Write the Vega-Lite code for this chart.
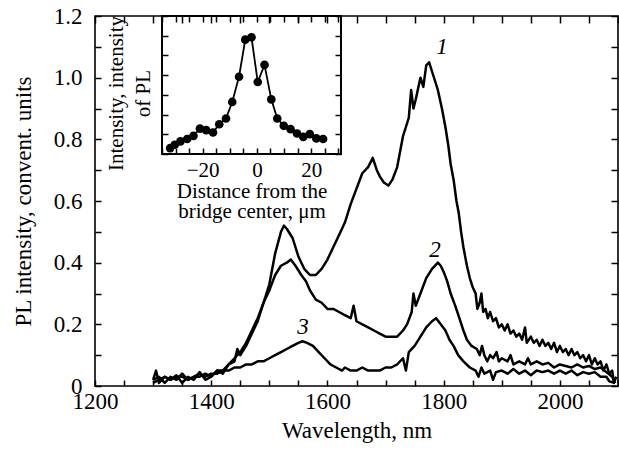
{
  "$schema": "https://vega.github.io/schema/vega-lite/v6.json",
  "width": 523,
  "height": 370,
  "autosize": {"type": "none"},
  "padding": {"left": 95, "top": 16, "right": 1, "bottom": 66},
  "background": "white",
  "config": {
    "view": {"stroke": "black", "strokeWidth": 1.6},
    "font": "Liberation Serif",
    "axis": {
      "grid": false,
      "domain": false,
      "ticks": true,
      "tickColor": "black",
      "tickWidth": 1.5,
      "tickOpacity": 1,
      "labelColor": "black",
      "titleColor": "black",
      "labelFont": "Liberation Serif",
      "titleFont": "Liberation Serif",
      "titleFontWeight": "normal",
      "labelOverlap": false,
      "labelFlush": false
    }
  },
  "datasets": {
    "spectra": [
      {"curve": "1", "wl": 1300, "val": 0.02}, {"curve": "1", "wl": 1305, "val": 0.05}, {"curve": "1", "wl": 1310, "val": 0.01}, {"curve": "1", "wl": 1320, "val": 0.03},
      {"curve": "1", "wl": 1330, "val": 0.02}, {"curve": "1", "wl": 1340, "val": 0.035}, {"curve": "1", "wl": 1350, "val": 0.01}, {"curve": "1", "wl": 1360, "val": 0.03},
      {"curve": "1", "wl": 1370, "val": 0.02}, {"curve": "1", "wl": 1380, "val": 0.045}, {"curve": "1", "wl": 1390, "val": 0.02}, {"curve": "1", "wl": 1400, "val": 0.03},
      {"curve": "1", "wl": 1410, "val": 0.05}, {"curve": "1", "wl": 1420, "val": 0.04}, {"curve": "1", "wl": 1430, "val": 0.07}, {"curve": "1", "wl": 1440, "val": 0.08},
      {"curve": "1", "wl": 1445, "val": 0.12}, {"curve": "1", "wl": 1450, "val": 0.1}, {"curve": "1", "wl": 1460, "val": 0.13}, {"curve": "1", "wl": 1470, "val": 0.17}, {"curve": "1", "wl": 1480, "val": 0.21},
      {"curve": "1", "wl": 1490, "val": 0.27}, {"curve": "1", "wl": 1500, "val": 0.33}, {"curve": "1", "wl": 1510, "val": 0.43}, {"curve": "1", "wl": 1520, "val": 0.5},
      {"curve": "1", "wl": 1525, "val": 0.52}, {"curve": "1", "wl": 1530, "val": 0.51}, {"curve": "1", "wl": 1540, "val": 0.48}, {"curve": "1", "wl": 1550, "val": 0.42},
      {"curve": "1", "wl": 1560, "val": 0.38}, {"curve": "1", "wl": 1570, "val": 0.36}, {"curve": "1", "wl": 1580, "val": 0.36}, {"curve": "1", "wl": 1590, "val": 0.38},
      {"curve": "1", "wl": 1600, "val": 0.41}, {"curve": "1", "wl": 1610, "val": 0.45}, {"curve": "1", "wl": 1620, "val": 0.49}, {"curve": "1", "wl": 1630, "val": 0.53},
      {"curve": "1", "wl": 1640, "val": 0.59}, {"curve": "1", "wl": 1650, "val": 0.64}, {"curve": "1", "wl": 1660, "val": 0.69}, {"curve": "1", "wl": 1670, "val": 0.71},
      {"curve": "1", "wl": 1678, "val": 0.74}, {"curve": "1", "wl": 1685, "val": 0.7}, {"curve": "1", "wl": 1690, "val": 0.68}, {"curve": "1", "wl": 1697, "val": 0.66},
      {"curve": "1", "wl": 1705, "val": 0.65}, {"curve": "1", "wl": 1712, "val": 0.67}, {"curve": "1", "wl": 1720, "val": 0.71}, {"curve": "1", "wl": 1730, "val": 0.81},
      {"curve": "1", "wl": 1740, "val": 0.87}, {"curve": "1", "wl": 1744, "val": 0.96}, {"curve": "1", "wl": 1748, "val": 0.9}, {"curve": "1", "wl": 1752, "val": 0.93}, {"curve": "1", "wl": 1760, "val": 1.0},
      {"curve": "1", "wl": 1765, "val": 0.97}, {"curve": "1", "wl": 1770, "val": 1.04}, {"curve": "1", "wl": 1775, "val": 1.05}, {"curve": "1", "wl": 1780, "val": 1.02},
      {"curve": "1", "wl": 1785, "val": 0.99}, {"curve": "1", "wl": 1790, "val": 0.96}, {"curve": "1", "wl": 1797, "val": 0.9}, {"curve": "1", "wl": 1803, "val": 0.84},
      {"curve": "1", "wl": 1808, "val": 0.78}, {"curve": "1", "wl": 1812, "val": 0.72}, {"curve": "1", "wl": 1817, "val": 0.67}, {"curve": "1", "wl": 1822, "val": 0.6},
      {"curve": "1", "wl": 1826, "val": 0.56}, {"curve": "1", "wl": 1830, "val": 0.5}, {"curve": "1", "wl": 1834, "val": 0.45}, {"curve": "1", "wl": 1840, "val": 0.39},
      {"curve": "1", "wl": 1845, "val": 0.35}, {"curve": "1", "wl": 1850, "val": 0.32}, {"curve": "1", "wl": 1855, "val": 0.3}, {"curve": "1", "wl": 1858, "val": 0.25}, {"curve": "1", "wl": 1862, "val": 0.27},
      {"curve": "1", "wl": 1865, "val": 0.3}, {"curve": "1", "wl": 1868, "val": 0.24}, {"curve": "1", "wl": 1872, "val": 0.25}, {"curve": "1", "wl": 1876, "val": 0.22},
      {"curve": "1", "wl": 1880, "val": 0.24}, {"curve": "1", "wl": 1885, "val": 0.21}, {"curve": "1", "wl": 1890, "val": 0.22}, {"curve": "1", "wl": 1895, "val": 0.19},
      {"curve": "1", "wl": 1900, "val": 0.2}, {"curve": "1", "wl": 1905, "val": 0.18}, {"curve": "1", "wl": 1910, "val": 0.2}, {"curve": "1", "wl": 1915, "val": 0.17},
      {"curve": "1", "wl": 1920, "val": 0.18}, {"curve": "1", "wl": 1925, "val": 0.16}, {"curve": "1", "wl": 1930, "val": 0.17}, {"curve": "1", "wl": 1935, "val": 0.15},
      {"curve": "1", "wl": 1940, "val": 0.19}, {"curve": "1", "wl": 1943, "val": 0.14}, {"curve": "1", "wl": 1950, "val": 0.16}, {"curve": "1", "wl": 1955, "val": 0.14},
      {"curve": "1", "wl": 1960, "val": 0.15}, {"curve": "1", "wl": 1965, "val": 0.13}, {"curve": "1", "wl": 1970, "val": 0.15}, {"curve": "1", "wl": 1975, "val": 0.13},
      {"curve": "1", "wl": 1980, "val": 0.14}, {"curve": "1", "wl": 1985, "val": 0.12}, {"curve": "1", "wl": 1990, "val": 0.14}, {"curve": "1", "wl": 1995, "val": 0.11},
      {"curve": "1", "wl": 2000, "val": 0.13}, {"curve": "1", "wl": 2005, "val": 0.11}, {"curve": "1", "wl": 2010, "val": 0.12}, {"curve": "1", "wl": 2015, "val": 0.1},
      {"curve": "1", "wl": 2020, "val": 0.12}, {"curve": "1", "wl": 2025, "val": 0.1}, {"curve": "1", "wl": 2030, "val": 0.11}, {"curve": "1", "wl": 2035, "val": 0.09},
      {"curve": "1", "wl": 2040, "val": 0.1}, {"curve": "1", "wl": 2045, "val": 0.08}, {"curve": "1", "wl": 2050, "val": 0.1}, {"curve": "1", "wl": 2055, "val": 0.07},
      {"curve": "1", "wl": 2060, "val": 0.09}, {"curve": "1", "wl": 2065, "val": 0.07}, {"curve": "1", "wl": 2070, "val": 0.08}, {"curve": "1", "wl": 2075, "val": 0.05},
      {"curve": "1", "wl": 2080, "val": 0.07}, {"curve": "1", "wl": 2085, "val": 0.04}, {"curve": "1", "wl": 2090, "val": 0.05}, {"curve": "1", "wl": 2093, "val": 0.01},
      {"curve": "1", "wl": 2097, "val": 0.03},

      {"curve": "2", "wl": 1300, "val": 0.02}, {"curve": "2", "wl": 1310, "val": 0.03}, {"curve": "2", "wl": 1320, "val": 0.01}, {"curve": "2", "wl": 1330, "val": 0.03},
      {"curve": "2", "wl": 1340, "val": 0.02}, {"curve": "2", "wl": 1350, "val": 0.04}, {"curve": "2", "wl": 1360, "val": 0.02}, {"curve": "2", "wl": 1370, "val": 0.03},
      {"curve": "2", "wl": 1380, "val": 0.03}, {"curve": "2", "wl": 1390, "val": 0.04}, {"curve": "2", "wl": 1400, "val": 0.03}, {"curve": "2", "wl": 1410, "val": 0.05},
      {"curve": "2", "wl": 1420, "val": 0.05}, {"curve": "2", "wl": 1430, "val": 0.07}, {"curve": "2", "wl": 1440, "val": 0.09}, {"curve": "2", "wl": 1450, "val": 0.11},
      {"curve": "2", "wl": 1460, "val": 0.14}, {"curve": "2", "wl": 1470, "val": 0.18}, {"curve": "2", "wl": 1480, "val": 0.22}, {"curve": "2", "wl": 1490, "val": 0.27},
      {"curve": "2", "wl": 1500, "val": 0.31}, {"curve": "2", "wl": 1510, "val": 0.36}, {"curve": "2", "wl": 1520, "val": 0.39}, {"curve": "2", "wl": 1530, "val": 0.4},
      {"curve": "2", "wl": 1537, "val": 0.41}, {"curve": "2", "wl": 1545, "val": 0.39}, {"curve": "2", "wl": 1555, "val": 0.36}, {"curve": "2", "wl": 1563, "val": 0.34},
      {"curve": "2", "wl": 1570, "val": 0.31}, {"curve": "2", "wl": 1580, "val": 0.28}, {"curve": "2", "wl": 1590, "val": 0.27}, {"curve": "2", "wl": 1600, "val": 0.25},
      {"curve": "2", "wl": 1610, "val": 0.25}, {"curve": "2", "wl": 1620, "val": 0.24}, {"curve": "2", "wl": 1630, "val": 0.23}, {"curve": "2", "wl": 1640, "val": 0.22},
      {"curve": "2", "wl": 1645, "val": 0.26}, {"curve": "2", "wl": 1650, "val": 0.21}, {"curve": "2", "wl": 1660, "val": 0.2}, {"curve": "2", "wl": 1670, "val": 0.19},
      {"curve": "2", "wl": 1680, "val": 0.18}, {"curve": "2", "wl": 1690, "val": 0.17}, {"curve": "2", "wl": 1700, "val": 0.16}, {"curve": "2", "wl": 1710, "val": 0.16},
      {"curve": "2", "wl": 1720, "val": 0.16}, {"curve": "2", "wl": 1730, "val": 0.18}, {"curve": "2", "wl": 1737, "val": 0.2}, {"curve": "2", "wl": 1745, "val": 0.24},
      {"curve": "2", "wl": 1748, "val": 0.3}, {"curve": "2", "wl": 1752, "val": 0.26}, {"curve": "2", "wl": 1760, "val": 0.3}, {"curve": "2", "wl": 1770, "val": 0.35}, {"curve": "2", "wl": 1780, "val": 0.38},
      {"curve": "2", "wl": 1790, "val": 0.4}, {"curve": "2", "wl": 1795, "val": 0.39}, {"curve": "2", "wl": 1800, "val": 0.37}, {"curve": "2", "wl": 1806, "val": 0.34},
      {"curve": "2", "wl": 1812, "val": 0.3}, {"curve": "2", "wl": 1820, "val": 0.26}, {"curve": "2", "wl": 1827, "val": 0.22}, {"curve": "2", "wl": 1834, "val": 0.18},
      {"curve": "2", "wl": 1840, "val": 0.15}, {"curve": "2", "wl": 1848, "val": 0.13}, {"curve": "2", "wl": 1857, "val": 0.12}, {"curve": "2", "wl": 1862, "val": 0.1},
      {"curve": "2", "wl": 1866, "val": 0.13}, {"curve": "2", "wl": 1870, "val": 0.1}, {"curve": "2", "wl": 1875, "val": 0.08}, {"curve": "2", "wl": 1880, "val": 0.1},
      {"curve": "2", "wl": 1885, "val": 0.09}, {"curve": "2", "wl": 1891, "val": 0.11}, {"curve": "2", "wl": 1895, "val": 0.08}, {"curve": "2", "wl": 1900, "val": 0.09},
      {"curve": "2", "wl": 1910, "val": 0.08}, {"curve": "2", "wl": 1915, "val": 0.1}, {"curve": "2", "wl": 1920, "val": 0.07}, {"curve": "2", "wl": 1930, "val": 0.08},
      {"curve": "2", "wl": 1940, "val": 0.07}, {"curve": "2", "wl": 1945, "val": 0.09}, {"curve": "2", "wl": 1950, "val": 0.07}, {"curve": "2", "wl": 1960, "val": 0.08},
      {"curve": "2", "wl": 1970, "val": 0.07}, {"curve": "2", "wl": 1980, "val": 0.075}, {"curve": "2", "wl": 1990, "val": 0.06}, {"curve": "2", "wl": 2000, "val": 0.07},
      {"curve": "2", "wl": 2010, "val": 0.065}, {"curve": "2", "wl": 2020, "val": 0.06}, {"curve": "2", "wl": 2030, "val": 0.07}, {"curve": "2", "wl": 2040, "val": 0.06},
      {"curve": "2", "wl": 2050, "val": 0.065}, {"curve": "2", "wl": 2060, "val": 0.055}, {"curve": "2", "wl": 2070, "val": 0.06}, {"curve": "2", "wl": 2080, "val": 0.045},
      {"curve": "2", "wl": 2090, "val": 0.03}, {"curve": "2", "wl": 2095, "val": 0.01},

      {"curve": "3", "wl": 1300, "val": 0.01}, {"curve": "3", "wl": 1310, "val": 0.02}, {"curve": "3", "wl": 1320, "val": 0.03}, {"curve": "3", "wl": 1330, "val": 0.02},
      {"curve": "3", "wl": 1340, "val": 0.03}, {"curve": "3", "wl": 1350, "val": 0.03}, {"curve": "3", "wl": 1360, "val": 0.02}, {"curve": "3", "wl": 1370, "val": 0.03},
      {"curve": "3", "wl": 1380, "val": 0.04}, {"curve": "3", "wl": 1390, "val": 0.03}, {"curve": "3", "wl": 1400, "val": 0.04}, {"curve": "3", "wl": 1410, "val": 0.04},
      {"curve": "3", "wl": 1420, "val": 0.05}, {"curve": "3", "wl": 1430, "val": 0.05}, {"curve": "3", "wl": 1440, "val": 0.06}, {"curve": "3", "wl": 1450, "val": 0.06},
      {"curve": "3", "wl": 1460, "val": 0.07}, {"curve": "3", "wl": 1470, "val": 0.07}, {"curve": "3", "wl": 1480, "val": 0.08}, {"curve": "3", "wl": 1490, "val": 0.08},
      {"curve": "3", "wl": 1500, "val": 0.09}, {"curve": "3", "wl": 1510, "val": 0.1}, {"curve": "3", "wl": 1520, "val": 0.11}, {"curve": "3", "wl": 1530, "val": 0.12},
      {"curve": "3", "wl": 1540, "val": 0.13}, {"curve": "3", "wl": 1550, "val": 0.14}, {"curve": "3", "wl": 1557, "val": 0.145}, {"curve": "3", "wl": 1565, "val": 0.14},
      {"curve": "3", "wl": 1575, "val": 0.13}, {"curve": "3", "wl": 1585, "val": 0.11}, {"curve": "3", "wl": 1595, "val": 0.09}, {"curve": "3", "wl": 1605, "val": 0.07},
      {"curve": "3", "wl": 1615, "val": 0.06}, {"curve": "3", "wl": 1625, "val": 0.05}, {"curve": "3", "wl": 1630, "val": 0.06}, {"curve": "3", "wl": 1640, "val": 0.05},
      {"curve": "3", "wl": 1650, "val": 0.05}, {"curve": "3", "wl": 1660, "val": 0.06}, {"curve": "3", "wl": 1670, "val": 0.05}, {"curve": "3", "wl": 1680, "val": 0.05},
      {"curve": "3", "wl": 1690, "val": 0.05}, {"curve": "3", "wl": 1700, "val": 0.06}, {"curve": "3", "wl": 1710, "val": 0.06}, {"curve": "3", "wl": 1720, "val": 0.07},
      {"curve": "3", "wl": 1730, "val": 0.09}, {"curve": "3", "wl": 1735, "val": 0.05}, {"curve": "3", "wl": 1740, "val": 0.11}, {"curve": "3", "wl": 1750, "val": 0.13}, {"curve": "3", "wl": 1760, "val": 0.16},
      {"curve": "3", "wl": 1770, "val": 0.19}, {"curve": "3", "wl": 1780, "val": 0.21}, {"curve": "3", "wl": 1787, "val": 0.22}, {"curve": "3", "wl": 1795, "val": 0.2},
      {"curve": "3", "wl": 1803, "val": 0.18}, {"curve": "3", "wl": 1810, "val": 0.15}, {"curve": "3", "wl": 1817, "val": 0.13}, {"curve": "3", "wl": 1825, "val": 0.1},
      {"curve": "3", "wl": 1834, "val": 0.08}, {"curve": "3", "wl": 1845, "val": 0.06}, {"curve": "3", "wl": 1855, "val": 0.05}, {"curve": "3", "wl": 1860, "val": 0.03},
      {"curve": "3", "wl": 1865, "val": 0.06}, {"curve": "3", "wl": 1870, "val": 0.04}, {"curve": "3", "wl": 1880, "val": 0.05}, {"curve": "3", "wl": 1885, "val": 0.02},
      {"curve": "3", "wl": 1890, "val": 0.045}, {"curve": "3", "wl": 1900, "val": 0.05}, {"curve": "3", "wl": 1910, "val": 0.04}, {"curve": "3", "wl": 1920, "val": 0.055},
      {"curve": "3", "wl": 1930, "val": 0.04}, {"curve": "3", "wl": 1940, "val": 0.05}, {"curve": "3", "wl": 1950, "val": 0.035}, {"curve": "3", "wl": 1960, "val": 0.05},
      {"curve": "3", "wl": 1970, "val": 0.045}, {"curve": "3", "wl": 1980, "val": 0.05}, {"curve": "3", "wl": 1990, "val": 0.04}, {"curve": "3", "wl": 2000, "val": 0.05},
      {"curve": "3", "wl": 2010, "val": 0.04}, {"curve": "3", "wl": 2020, "val": 0.05}, {"curve": "3", "wl": 2030, "val": 0.035}, {"curve": "3", "wl": 2040, "val": 0.045},
      {"curve": "3", "wl": 2050, "val": 0.04}, {"curve": "3", "wl": 2060, "val": 0.045}, {"curve": "3", "wl": 2070, "val": 0.03}, {"curve": "3", "wl": 2080, "val": 0.03},
      {"curve": "3", "wl": 2085, "val": 0.015}, {"curve": "3", "wl": 2095, "val": 0.01}
    ],
    "labels": [
      {"wl": 1797, "val": 1.1, "text": "1"},
      {"wl": 1785, "val": 0.44, "text": "2"},
      {"wl": 1558, "val": 0.19, "text": "3"}
    ],
    "profile": [
      {"d": -32.0, "i": 0.3}, {"d": -30.3, "i": 0.47}, {"d": -28.2, "i": 0.64}, {"d": -25.7, "i": 0.76},
      {"d": -23.4, "i": 0.92}, {"d": -21.0, "i": 1.29}, {"d": -18.7, "i": 1.21}, {"d": -16.2, "i": 1.09},
      {"d": -13.9, "i": 1.51}, {"d": -11.4, "i": 1.8}, {"d": -9.1, "i": 2.64}, {"d": -6.6, "i": 3.92},
      {"d": -4.3, "i": 5.8}, {"d": -2.0, "i": 5.92}, {"d": 0.3, "i": 3.65}, {"d": 2.8, "i": 4.52},
      {"d": 5.3, "i": 2.77}, {"d": 7.5, "i": 1.8}, {"d": 9.9, "i": 1.43}, {"d": 12.4, "i": 1.26},
      {"d": 14.8, "i": 1.04}, {"d": 17.1, "i": 0.87}, {"d": 19.5, "i": 1.01}, {"d": 21.9, "i": 0.79},
      {"d": 24.4, "i": 0.76}
    ]
  },
  "layer": [
    {
      "layer": [
        {
          "data": {"name": "spectra"},
          "mark": {"type": "line", "color": "black", "strokeWidth": 2.5, "strokeJoin": "round"},
          "encoding": {
            "x": {
              "field": "wl", "type": "quantitative",
              "scale": {"domain": [1200, 2100], "nice": false, "zero": false},
              "axis": {
                "orient": "bottom", "offset": -6,
                "values": [1200, 1250, 1300, 1350, 1400, 1450, 1500, 1550, 1600, 1650, 1700, 1750, 1800, 1850, 1900, 1950, 2000, 2050, 2100],
                "labelExpr": "datum.value % 200 == 0 && datum.value < 2100 ? format(datum.value, 'd') : ''",
                "tickSize": 6, "labelPadding": 4, "labelFontSize": 23,
                "title": "Wavelength, nm", "titleFontSize": 23, "titlePadding": 6
              }
            },
            "y": {
              "field": "val", "type": "quantitative",
              "scale": {"domain": [0, 1.2], "nice": false},
              "axis": {
                "orient": "left", "offset": -6,
                "values": [0, 0.1, 0.2, 0.3, 0.4, 0.5, 0.6, 0.7, 0.8, 0.9, 1.0, 1.1, 1.2],
                "labelExpr": "round(datum.value * 10) % 2 == 0 ? (datum.value == 0 ? '0' : format(datum.value, '.1f')) : ''",
                "tickSize": 6, "labelPadding": 13, "labelFontSize": 23,
                "title": "PL intensity, convent. units", "titleFontSize": 23, "titlePadding": 18
              }
            },
            "detail": {"field": "curve"}
          }
        },
        {
          "data": {"name": "spectra"},
          "mark": {"type": "point", "opacity": 0},
          "encoding": {
            "x": {"field": "wl", "type": "quantitative",
              "axis": {"orient": "top", "offset": -7,
                "values": [1200, 1250, 1300, 1350, 1400, 1450, 1500, 1550, 1600, 1650, 1700, 1750, 1800, 1850, 1900, 1950, 2000, 2050, 2100],
                "labels": false, "tickSize": 7, "title": null}},
            "y": {"field": "val", "type": "quantitative",
              "axis": {"orient": "right", "offset": -7,
                "values": [0, 0.1, 0.2, 0.3, 0.4, 0.5, 0.6, 0.7, 0.8, 0.9, 1.0, 1.1, 1.2],
                "labels": false, "tickSize": 7, "title": null}}
          }
        },
        {
          "data": {"name": "labels"},
          "mark": {"type": "text", "font": "Liberation Serif", "fontStyle": "italic", "fontSize": 23, "color": "black"},
          "encoding": {
            "x": {"field": "wl", "type": "quantitative", "axis": null},
            "y": {"field": "val", "type": "quantitative", "axis": null},
            "text": {"field": "text"}
          }
        }
      ],
      "resolve": {"axis": {"x": "independent", "y": "independent"}}
    },
    {
      "data": {"name": "profile"},
      "layer": [
        {
          "mark": {"type": "line", "color": "black", "strokeWidth": 1.8},
          "encoding": {
            "x": {
              "field": "d", "type": "quantitative",
              "scale": {"domain": [-35, 31], "range": [67, 246], "nice": false, "zero": false},
              "axis": {"orient": "bottom", "offset": -238,
                "values": [-35, -30, -25, -20, -15, -10, -5, 0, 5, 10, 15, 20, 25, 30],
                "labelExpr": "datum.value % 20 == 0 ? format(datum.value, 'd') : ''",
                "tickSize": 6, "labelPadding": 5, "labelFontSize": 21,
                "title": ["Distance from the", "bridge center, μm"], "titleFontSize": 21, "titleLineHeight": 20, "titlePadding": 0}
            },
            "y": {
              "field": "i", "type": "quantitative",
              "scale": {"domain": [0, 7], "range": [138, 0], "nice": false},
              "axis": {"orient": "left", "offset": -73, "values": [0, 1, 2, 3, 4, 5, 6, 7], "labels": false, "tickSize": 6,
                "title": ["Intensity, intensity", "of PL"], "titleFontSize": 21, "titleLineHeight": 27, "titlePadding": 8, "titleY": 77}
            }
          }
        },
        {
          "mark": {"type": "point", "filled": true, "color": "black", "size": 75, "opacity": 1},
          "encoding": {
            "x": {"field": "d", "type": "quantitative",
              "axis": {"orient": "top", "offset": -6, "values": [-35, -30, -25, -20, -15, -10, -5, 0, 5, 10, 15, 20, 25, 30], "labels": false, "tickSize": 6, "title": null}},
            "y": {"field": "i", "type": "quantitative",
              "axis": {"orient": "right", "offset": -283, "values": [0, 1, 2, 3, 4, 5, 6, 7], "labels": false, "tickSize": 6, "title": null}}
          }
        },
        {
          "mark": {"type": "rect", "fill": null, "stroke": "black", "strokeWidth": 1.6},
          "encoding": {
            "x": {"datum": -35, "type": "quantitative", "axis": null},
            "x2": {"datum": 31},
            "y": {"datum": 0, "type": "quantitative", "axis": null},
            "y2": {"datum": 7}
          }
        }
      ],
      "resolve": {"axis": {"x": "independent", "y": "independent"}}
    }
  ],
  "resolve": {
    "scale": {"x": "independent", "y": "independent"},
    "axis": {"x": "independent", "y": "independent"}
  }
}
